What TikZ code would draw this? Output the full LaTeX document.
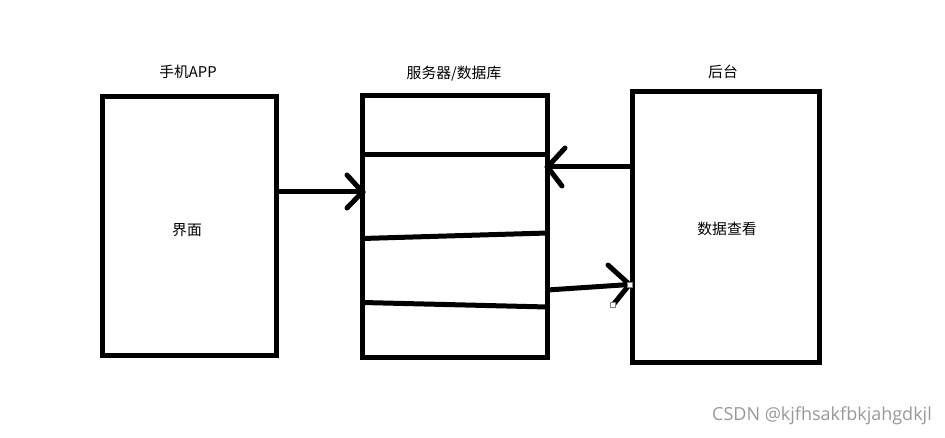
\documentclass[tikz,border=0pt]{standalone}
\usepackage{fontspec}
\setmainfont{Liberation Sans}
\newfontfamily\cjk{Noto Sans CJK SC}
\newfontfamily\wmfont{Open Sans}
\begin{document}
\begin{tikzpicture}[x=1pt,y=-1pt,
  box/.style={draw=black,line width=5pt,minimum width=#1,inner sep=0pt,outer sep=0pt},
  lbl/.style={font=\cjk\fontsize{14.8}{16}\selectfont,inner sep=0pt},
  thick5/.style={line width=5pt,line cap=round},
  handle/.style={draw=gray,fill=white,line width=0.8pt,minimum size=5pt,inner sep=0pt}]
\useasboundingbox[fill=white] (0,0) rectangle (945,438);
% boxes
\node[box=174pt,minimum height=258.5pt] (app) at (189.5,225.75) {};
\node[box=185pt,minimum height=261.5pt] (srv) at (455,226.25) {};
\node[box=186.5pt,minimum height=271pt] (adm) at (725.75,227) {};
% titles
\node[lbl] (tapp) at (188,72) {手机APP};
\node[lbl] (tsrv) at (454,74) {服务器/数据库};
\node[lbl] (tadm) at (723,72) {后台};
\node[lbl] (ui) at (187,230) {界面};
\node[lbl] (view) at (727,229) {数据查看};
% divider lines in server box
\coordinate (d1l) at (srv.west |- 0,155);
\coordinate (d1r) at (srv.east |- 0,155);
\coordinate (d2l) at (srv.west |- 0,238.5);
\coordinate (d2r) at (srv.east |- 0,233);
\coordinate (d3l) at (srv.west |- 0,302.5);
\coordinate (d3r) at (srv.east |- 0,307);
\draw[line width=5pt] (d1l) -- (d1r);
\draw[line width=5pt] (d2l) -- (d2r);
\draw[line width=5pt] (d3l) -- (d3r);
% arrow 1: app -> server
\coordinate (a1s) at (app.east |- 0,192);
\coordinate (a1e) at (srv.west |- 0,192);
\draw[line width=5pt] (a1s) -- (a1e);
\draw[thick5] (347,175) -- (a1e) -- (347,208);
% arrow 2: admin -> server
\coordinate (a2s) at (adm.west |- 0,167);
\coordinate (a2e) at (srv.east |- 0,167);
\draw[line width=5pt] (a2s) -- (a2e);
\draw[thick5] (565,148) -- (a2e) -- (562,186);
% arrow 3: server -> admin
\coordinate (a3s) at (srv.east |- 0,290);
\coordinate (a3e) at (629.5,284.5);
\draw[line width=5pt] (a3s) -- (a3e);
\draw[thick5] (608,265) -- (a3e) -- (613,305);
\node[handle] (h1) at (a3e) {};
\node[handle] (h2) at (613,305) {};
% watermark
\node[font=\wmfont\fontsize{18}{20}\selectfont,text=black!40,anchor=east,inner sep=0pt] (wm) at (932,416) {CSDN @kjfhsakfbkjahgdkjl};
\end{tikzpicture}
\end{document}
